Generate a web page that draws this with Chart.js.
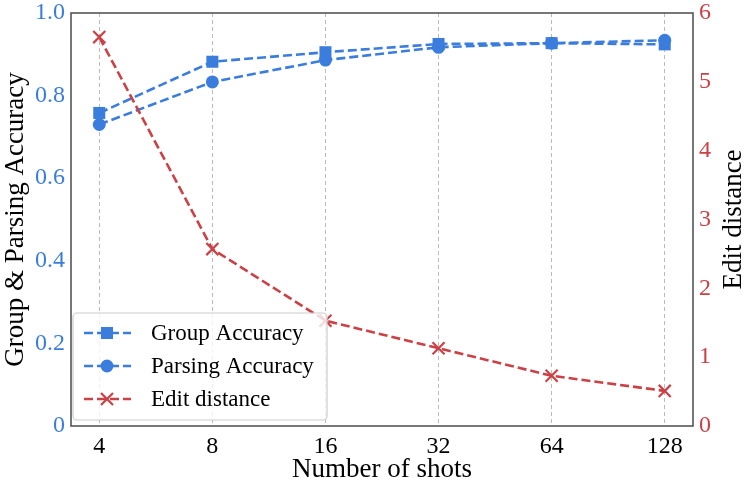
<!DOCTYPE html>
<html>
<head>
<meta charset="utf-8">
<script src="https://cdn.jsdelivr.net/npm/chart.js@4.4.1/dist/chart.umd.min.js"></script>
<style>
  html, body { margin: 0; padding: 0; background: #fff; }
  #wrap { width: 747px; height: 484px; }
</style>
</head>
<body>
<div id="wrap"><canvas id="chart" width="747" height="484"></canvas></div>
<script>
(function(){
  "use strict";

  var shots = ["4", "8", "16", "32", "64", "128"];
  var groupAcc = [0.758, 0.882, 0.905, 0.925, 0.927, 0.924];
  var parsingAcc = [0.730, 0.833, 0.886, 0.917, 0.927, 0.934];
  var editDistance = [5.65, 2.57, 1.53, 1.13, 0.73, 0.51];
  var accTicks = [0, 0.2, 0.4, 0.6, 0.8, 1.0];
  var editTicks = [0, 1, 2, 3, 4, 5, 6];

  var BLUE = "#3b7ddd", RED = "#cc4146";
  var SERIF = "'Liberation Serif', 'DejaVu Serif', serif";

  function pts(vals){
    return vals.map(function(v, i){ return { x: i, y: v }; });
  }

  // fixed box sizes so the plot area sits where the reference has it
  function fixBox(w, h){
    return function(s){
      if (w) s.width = w;
      if (h) s.height = h;
      s.paddingTop = 0; s.paddingBottom = 0;
      s.paddingLeft = 0; s.paddingRight = 0;
    };
  }

  // legend drawn inside the plot, lower left, like matplotlib's
  var innerLegend = {
    id: "innerLegend",
    afterDraw: function(chart){
      var ctx = chart.ctx, a = chart.chartArea;
      var bx = a.left + 2, by = a.bottom - 113, bw = 254, bh = 107;
      ctx.save();
      ctx.fillStyle = "rgba(255,255,255,0.8)";
      ctx.strokeStyle = "#cccccc";
      ctx.lineWidth = 1.2;
      ctx.beginPath();
      ctx.roundRect(bx, by, bw, bh, 4);
      ctx.fill();
      ctx.stroke();
      [0, 1, 2].forEach(function(di, row){
        var ds = chart.data.datasets[di];
        var y = by + 20 + row * 33;
        ctx.save();
        ctx.strokeStyle = ds.borderColor;
        ctx.lineWidth = ds.borderWidth;
        ctx.setLineDash(ds.borderDash);
        ctx.beginPath();
        ctx.moveTo(bx + 11, y);
        ctx.lineTo(bx + 58, y);
        ctx.stroke();
        ctx.restore();
        ctx.save();
        ctx.fillStyle = ds.pointBackgroundColor;
        ctx.strokeStyle = ds.pointBorderColor;
        ctx.lineWidth = ds.pointBorderWidth;
        Chart.helpers.drawPoint(ctx, {
          pointStyle: ds.pointStyle, radius: ds.pointRadius,
          borderWidth: ds.pointBorderWidth, rotation: 0
        }, bx + 34, y);
        ctx.restore();
        ctx.fillStyle = "#000";
        ctx.font = "23px " + SERIF;
        ctx.textBaseline = "middle";
        ctx.textAlign = "left";
        ctx.fillText(ds.label, bx + 78, y + 1);
      });
      ctx.restore();
    }
  };

  // axes frame and the right-hand title (matplotlib reads it bottom to top)
  var frame = {
    id: "frame",
    afterDatasetsDraw: function(chart){
      var ctx = chart.ctx, a = chart.chartArea;
      ctx.save();
      ctx.strokeStyle = "#555555";
      ctx.lineWidth = 1.6;
      ctx.strokeRect(a.left, a.top, a.right - a.left, a.bottom - a.top);
      ctx.translate(734, (a.top + a.bottom) / 2);
      ctx.rotate(-Math.PI / 2);
      ctx.fillStyle = "#000";
      ctx.font = "27px " + SERIF;
      ctx.textAlign = "center";
      ctx.textBaseline = "middle";
      ctx.fillText("Edit distance", 0, 0);
      ctx.restore();
    }
  };

  new Chart(document.getElementById("chart"), {
    type: "line",
    data: {
      datasets: [{
        label: "Group Accuracy",
        data: pts(groupAcc),
        yAxisID: "yAcc",
        borderColor: BLUE, borderWidth: 2.6, borderDash: [9, 4],
        pointStyle: "rect", pointRadius: 8.5,
        pointBackgroundColor: BLUE, pointBorderColor: BLUE, pointBorderWidth: 0,
        tension: 0, order: 2
      }, {
        label: "Parsing Accuracy",
        data: pts(parsingAcc),
        yAxisID: "yAcc",
        borderColor: BLUE, borderWidth: 2.6, borderDash: [9, 4],
        pointStyle: "circle", pointRadius: 6.5,
        pointBackgroundColor: BLUE, pointBorderColor: BLUE, pointBorderWidth: 0,
        tension: 0, order: 1
      }, {
        label: "Edit distance",
        data: pts(editDistance),
        yAxisID: "yEdit",
        borderColor: RED, borderWidth: 2.6, borderDash: [9, 4],
        pointStyle: "crossRot", pointRadius: 8.5,
        pointBackgroundColor: RED, pointBorderColor: RED, pointBorderWidth: 2.2,
        tension: 0, order: 0
      }]
    },
    options: {
      responsive: false,
      animation: false,
      layout: { padding: { top: 13, left: 0, right: 0, bottom: 0 } },
      plugins: { legend: { display: false }, tooltip: { enabled: false } },
      scales: {
        x: {
          type: "linear",
          min: -0.25, max: shots.length - 0.75,
          afterBuildTicks: function(s){ s.ticks = shots.map(function(_, i){ return { value: i }; }); },
          afterFit: fixBox(0, 58),
          ticks: {
            color: "#000", font: { family: SERIF, size: 24 }, padding: 6,
            autoSkip: false, maxRotation: 0,
            callback: function(v){ return shots[v]; }
          },
          grid: { color: "#bbbbbb", lineWidth: 1, drawTicks: false },
          border: { display: false, dash: [4, 3] },
          title: {
            display: true, text: "Number of shots", color: "#000",
            font: { family: SERIF, size: 27 }, padding: { top: 0, bottom: -2 }
          }
        },
        yAcc: {
          position: "left",
          min: 0, max: 1,
          afterBuildTicks: function(s){ s.ticks = accTicks.map(function(v){ return { value: v }; }); },
          afterFit: fixBox(71, 0),
          ticks: {
            color: BLUE, font: { family: SERIF, size: 24 }, padding: 6,
            callback: function(v){ return v === 0 ? "0" : v.toFixed(1); }
          },
          grid: { display: false, drawTicks: false },
          border: { display: false },
          title: {
            display: true, text: "Group & Parsing Accuracy", color: "#000",
            font: { family: SERIF, size: 27 }, padding: 0
          }
        },
        yEdit: {
          position: "right",
          min: 0, max: 6,
          afterBuildTicks: function(s){ s.ticks = editTicks.map(function(v){ return { value: v }; }); },
          afterFit: fixBox(54, 0),
          ticks: {
            color: RED, font: { family: SERIF, size: 24 }, padding: 6,
            callback: function(v){ return String(v); }
          },
          grid: { display: false, drawTicks: false },
          border: { display: false }
        }
      }
    },
    plugins: [frame, innerLegend]
  });
})();
</script>
</body>
</html>
